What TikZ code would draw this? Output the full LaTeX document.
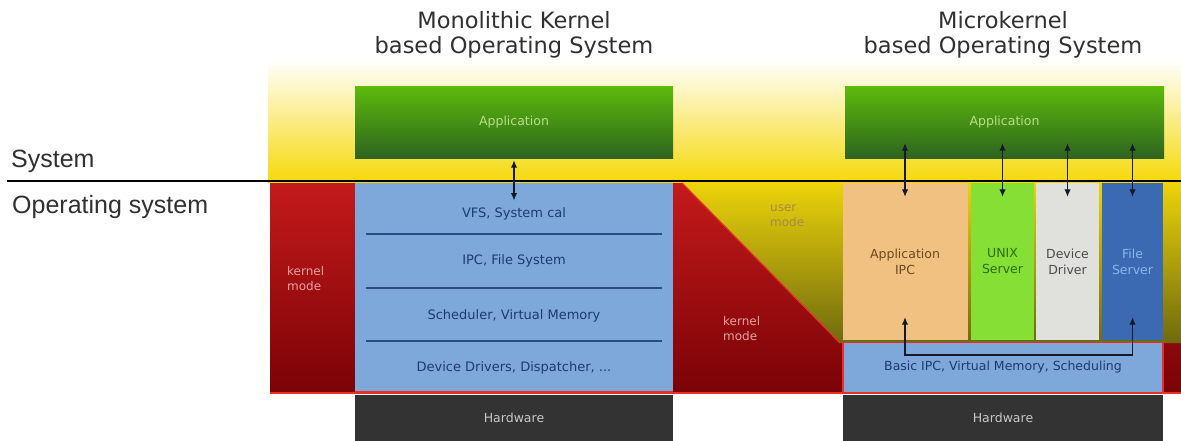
\documentclass[tikz,border=0pt]{standalone}
\usepackage{fontspec}
\setmainfont{DejaVu Sans}
\newfontfamily\lib{Liberation Sans}
\usetikzlibrary{arrows.meta,calc}
\definecolor{yel}{HTML}{F5D90A}
\definecolor{redT}{HTML}{C41A1C}
\definecolor{redB}{HTML}{7A0306}
\definecolor{redLine}{HTML}{E8302A}
\definecolor{uT}{HTML}{ECD30A}
\definecolor{uB}{HTML}{6E6A0E}
\definecolor{blueBox}{HTML}{7FA8DA}
\definecolor{sepC}{HTML}{2B4B85}
\definecolor{txtBlue}{HTML}{1E3A6E}
\definecolor{gTop}{HTML}{5DBB0B}
\definecolor{gBot}{HTML}{2E6420}
\definecolor{appTxt}{HTML}{B5E08A}
\definecolor{hwC}{HTML}{333333}
\definecolor{hwTxt}{HTML}{C8C8C8}
\definecolor{oraC}{HTML}{F1C182}
\definecolor{oraTxt}{HTML}{6B4A1E}
\definecolor{unixC}{HTML}{86DF35}
\definecolor{unixTxt}{HTML}{2E6B12}
\definecolor{devC}{HTML}{E0E0DC}
\definecolor{devTxt}{HTML}{4A4A4A}
\definecolor{fileC}{HTML}{3B69B2}
\definecolor{fileTxt}{HTML}{8DB4EC}
\definecolor{kernTxt}{HTML}{E8A0A0}
\definecolor{userTxt}{HTML}{A8894A}
\definecolor{arrC}{HTML}{141A2A}
\definecolor{titleC}{HTML}{303030}
\begin{document}
\begin{tikzpicture}[x=1pt,y=-1pt,
  title/.style={align=center,text=titleC,font=\fontsize{22.5}{25}\selectfont,inner sep=0},
  sidelbl/.style={text=titleC,font=\lib\fontsize{25}{28}\selectfont,inner sep=0,anchor=base west},
  appbox/.style={rectangle,inner sep=0,minimum height=72,top color=gTop,bottom color=gBot,text=appTxt,font=\fontsize{12.5}{16}\selectfont},
  hwbox/.style={rectangle,inner sep=0,minimum height=46,fill=hwC,text=hwTxt,font=\fontsize{12.5}{16}\selectfont},
  layertxt/.style={inner sep=2,text=txtBlue,font=\fontsize{13}{16}\selectfont},
  srv/.style={rectangle,inner sep=0,minimum height=157,align=center,font=\fontsize{12.5}{16}\selectfont},
  modetxt/.style={align=left,inner sep=0,anchor=north west,font=\fontsize{12}{15}\selectfont},
  dbl/.style={{Latex[length=7.5pt,width=6.5pt]}-{Latex[length=7.5pt,width=6.5pt]},line width=1.2pt,draw=arrC},
  sep/.style={draw=sepC,line width=1.8pt}]
\useasboundingbox (0,0) rectangle (1181,440);
% backgrounds
\fill[top color=white,bottom color=yel] (268,60) rectangle (1181,182);
\path[top color=redT,bottom color=redB] (270,183) -- (682,183) -- (840,343) -- (1181,343) -- (1181,393) -- (270,393) -- cycle;
\path[top color=uT,bottom color=uB] (682,183) -- (1181,183) -- (1181,343) -- (840,343) -- cycle;
\draw[redLine,line width=1.2pt] (682,183) -- (840,343);
\draw[redLine,line width=1.5pt] (270,393) -- (1181,393);
% divider
\draw[line width=2.5pt,black] (7,181) -- (1181,181);
\node[sidelbl] (sys) at (11,167) {System};
\node[sidelbl] (os) at (12,213) {Operating system};
% titles
\node[title] (t1) at (514,35) {Monolithic Kernel\\based Operating System};
\node[title] (t2) at (1003,35) {Microkernel\\based Operating System};
% monolithic
\node[appbox,minimum width=318] (app1) at (514,122) {Application};
\node[rectangle,inner sep=0,minimum width=318,minimum height=209,fill=blueBox] (mono) at (514,287) {};
\draw[redLine,line width=1.2pt] (mono.south west) -- (mono.south east);
\draw[sep] (366,234) -- (662,234);
\draw[sep] (366,288) -- (662,288);
\draw[sep] (366,341) -- (662,341);
\node[layertxt] (vfs) at (514,214) {VFS, System cal};
\node[layertxt] (ipc) at (514,261) {IPC, File System};
\node[layertxt] (sched) at (514,316) {Scheduler, Virtual Memory};
\node[layertxt] (drv) at (514,368) {Device Drivers, Dispatcher, ...};
\node[hwbox,minimum width=318] (hw1) at (514,418) {Hardware};
\draw[dbl] ([yshift=-2]app1.south) -- ([yshift=5]vfs.north);
\node[modetxt,text=kernTxt] (km1) at (287,266) {kernel\\mode};
% microkernel
\node[appbox,minimum width=319] (app2) at (1004.5,122) {Application};
\node[srv,minimum width=125,fill=oraC,text=oraTxt] (aipc) at (905,261.5) {Application\\IPC};
\node[srv,minimum width=63,fill=unixC,text=unixTxt] (unix) at (1002.5,261.5) {UNIX\\Server};
\node[srv,minimum width=63,fill=devC,text=devTxt] (dev) at (1067.5,261.5) {Device\\Driver};
\node[srv,minimum width=61,fill=fileC,text=fileTxt] (file) at (1132.5,261.5) {File\\Server};
\node[rectangle,inner sep=0,minimum width=320,minimum height=50,fill=blueBox,draw=redLine,line width=1.2pt,text=txtBlue,font=\fontsize{12.5}{16}\selectfont] (basic) at (1003,367.5) {Basic IPC, Virtual Memory, Scheduling};
\node[hwbox,minimum width=320] (hw2) at (1003,418) {Hardware};
\foreach \n in {aipc,unix,dev,file}
  \draw[dbl] ($(app2.south -| \n.north)+(0,-15)$) -- ($(\n.north)+(0,14)$);
\draw[dbl] ($(aipc.south)+(0,-23)$) |- ($(basic.north)+(0,13)$) -| ($(file.south)+(0,-23)$);
\node[modetxt,text=userTxt] (um) at (770,205) {user\\mode};
\node[modetxt,text=kernTxt] (km2) at (723,316) {kernel\\mode};
\end{tikzpicture}
\end{document}
